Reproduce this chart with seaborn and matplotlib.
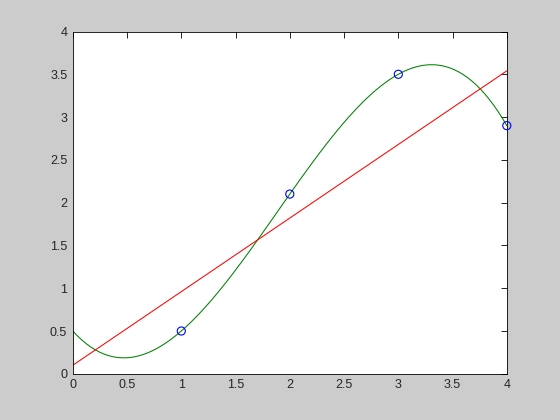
import numpy as np
import pandas as pd
import matplotlib
matplotlib.use("Agg")
import matplotlib.pyplot as plt
import seaborn as sns

# Data points (circles)
x_pts = [1, 2, 3, 4]
y_pts = [0.5, 2.1, 3.5, 2.9]
tick_vals = [0, 0.5, 1, 1.5, 2, 2.5, 3, 3.5, 4]
tick_labels = ["0", "0.5", "1", "1.5", "2", "2.5", "3", "3.5", "4"]

df = pd.DataFrame({"x": x_pts, "y": y_pts})

sns.set_style("white")
plt.rcParams["font.family"] = ["Liberation Sans", "DejaVu Sans"]

fig = plt.figure(figsize=(5.6, 4.2), dpi=100, facecolor=(0.8, 0.8, 0.8))
ax = fig.add_axes([0.13, 0.11, 0.775, 0.815])
ax.set_xlim(0, 4)
ax.set_ylim(0, 4)

# cubic fit (green) and linear fit (red), extended across the axis
sns.regplot(data=df, x="x", y="y", order=3, ci=None, scatter=False, truncate=False,
            line_kws={"color": (0, 0.5, 0), "lw": 0.75}, ax=ax)
sns.regplot(data=df, x="x", y="y", order=1, ci=None, scatter=False, truncate=False,
            line_kws={"color": (1, 0, 0), "lw": 0.75}, ax=ax)
sns.scatterplot(data=df, x="x", y="y", marker="o", s=34, facecolor="none",
                edgecolor=(0, 0, 1), linewidth=0.8, ax=ax, zorder=5, clip_on=False)

ax.set_xlim(0, 4)
ax.set_ylim(0, 4)
ax.set_xticks(tick_vals)
ax.set_yticks(tick_vals)
ax.set_xticklabels(tick_labels)
ax.set_yticklabels(tick_labels)
ax.set_xlabel("")
ax.set_ylabel("")
ax.tick_params(direction="in", top=True, right=True, length=4, width=0.6,
               labelsize=9, color="black", pad=4)
for s in ax.spines.values():
    s.set_visible(True)
    s.set_color("black")
    s.set_linewidth(0.6)
ax.set_facecolor("white")

fig.savefig("out.png", dpi=100, facecolor=fig.get_facecolor())
